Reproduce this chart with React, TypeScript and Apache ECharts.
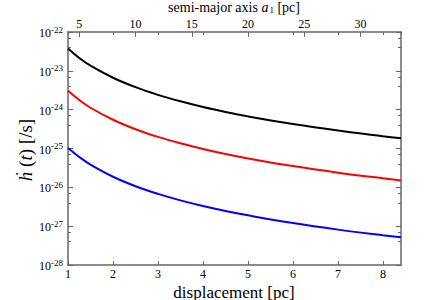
import React, { useEffect, useRef } from "react";
import * as echarts from "echarts";

const displacement = [1, 1.25, 1.5, 2, 2.5, 3, 3.5, 4, 4.5, 5, 6, 7, 8, 8.4];
const blackSeries = [3.76e-23, 2.15e-23, 1.36e-23, 6.64e-24, 3.8e-24, 2.41e-24, 1.64e-24, 1.17e-24, 8.73e-25, 6.72e-25, 4.26e-25, 2.89e-25, 2.07e-25, 1.83e-25];
const redSeries = [3.05e-24, 1.78e-24, 1.12e-24, 5.5e-25, 3.14e-25, 1.99e-25, 1.36e-25, 9.7e-26, 7.2e-26, 5.56e-26, 3.52e-26, 2.39e-26, 1.71e-26, 1.51e-26];
const blueSeries = [1.03e-25, 6.06e-26, 3.84e-26, 1.87e-26, 1.07e-26, 6.8e-27, 4.62e-27, 3.3e-27, 2.46e-27, 1.9e-27, 1.2e-27, 8.15e-28, 5.84e-28, 5.16e-28];
const topTicks = [5, 10, 15, 20, 25, 30];
const yMinExp = -28;
const yMaxExp = -22;

const FONT = "'Liberation Serif', 'Times New Roman', serif";
const AXIS_COLOR = "#666";

export default function App() {
  const ref = useRef<HTMLDivElement>(null);
  useEffect(() => {
    const chart = echarts.init(ref.current!, null, { renderer: "svg" });
    // ECharts' log scale fails on extents this small, so values are expressed in units of 10^yMinExp
    const unit = Math.pow(10, yMinExp);
    const pair = (ys: number[]) => displacement.map((d, i) => [d, ys[i] / unit]);
    const axisLine = { show: true, lineStyle: { color: AXIS_COLOR, width: 1.5 } };
    const expLabel = (v: number) => `{b|10}{s|${Math.round(Math.log10(v)) + yMinExp}}`;
    const yMax = Math.pow(10, yMaxExp - yMinExp);
    const line = (ys: number[], color: string) => ({
      type: "line", data: pair(ys), smooth: 0.4, showSymbol: false,
      lineStyle: { color, width: 2 }, xAxisIndex: 0, yAxisIndex: 0,
    });
    chart.setOption({
      animation: false,
      grid: { left: 68, right: 27, top: 32, bottom: 35 },
      xAxis: [
        {
          type: "value", position: "bottom", min: 1, max: 8.4, interval: 1,
          axisLine, splitLine: { show: false },
          axisTick: { inside: true, length: 4, lineStyle: { color: AXIS_COLOR } },
          axisLabel: { showMaxLabel: false, color: "#000", fontFamily: FONT, fontSize: 12, margin: 3 },
        },
        {
          type: "value", position: "top", min: 4, max: 33.6,
          axisLine, splitLine: { show: false },
          axisTick: { inside: true, length: 5, customValues: topTicks, lineStyle: { color: AXIS_COLOR } },
          axisLabel: { customValues: topTicks, color: "#000", fontFamily: FONT, fontSize: 12, margin: 2 },
        },
        {
          type: "value", position: "top", min: 1, max: 8.4, interval: 1,
          axisLine: { show: false }, splitLine: { show: false },
          axisTick: { inside: true, length: 3, lineStyle: { color: AXIS_COLOR } },
          axisLabel: { show: false },
        },
      ],
      yAxis: [
        {
          type: "log", logBase: 10, position: "left", min: 1, max: yMax,
          axisLine, splitLine: { show: false },
          axisTick: { inside: true, length: 5, lineStyle: { color: AXIS_COLOR } },
          minorTick: { show: true, splitNumber: 3, length: 3, lineStyle: { color: AXIS_COLOR } },
          axisLabel: {
            formatter: expLabel, margin: 5,
            rich: {
              b: { fontFamily: FONT, fontSize: 12, color: "#000", verticalAlign: "bottom", lineHeight: 14 },
              s: { fontFamily: FONT, fontSize: 9, color: "#000", verticalAlign: "top", lineHeight: 14, padding: [0, 0, 9, 0] },
            },
          },
        },
        {
          type: "log", logBase: 10, position: "right", min: 1, max: yMax,
          axisLine, splitLine: { show: false },
          axisTick: { inside: true, length: 5, lineStyle: { color: AXIS_COLOR } },
          minorTick: { show: true, splitNumber: 3, length: 3, lineStyle: { color: AXIS_COLOR } },
          axisLabel: { show: false },
        },
      ],
      series: [line(blackSeries, "#000"), line(redSeries, "#ff0000"), line(blueSeries, "#0000ff")],
      graphic: [
        {
          type: "text", x: 234, y: 7,
          style: {
            text: "{n|semi-major axis }{i|a}{sub|1}{n| [pc]}",
            align: "center", verticalAlign: "middle",
            rich: {
              n: { fontFamily: FONT, fontSize: 14, fill: "#000" },
              i: { fontFamily: FONT, fontSize: 14, fontStyle: "italic", fill: "#000" },
              sub: { fontFamily: FONT, fontSize: 9, fill: "#000", padding: [6, 0, 0, 1] },
            },
          },
        },
        {
          type: "text", x: 234, y: 292,
          style: { text: "displacement [pc]", font: `17px ${FONT}`, fill: "#000", align: "center", verticalAlign: "middle" },
        },
        {
          type: "text", x: 25, y: 150, rotation: Math.PI / 2,
          style: {
            text: "{i|ḣ}{n| (}{i|t}{n|) [/s]}",
            align: "center", verticalAlign: "middle",
            rich: {
              n: { fontFamily: FONT, fontSize: 19, fill: "#000" },
              i: { fontFamily: FONT, fontSize: 19, fontStyle: "italic", fill: "#000" },
            },
          },
        },
      ],
    });
    return () => chart.dispose();
  }, []);
  return <div ref={ref} style={{ width: 428, height: 300, position: "absolute", left: 0, top: 0 }} />;
}
